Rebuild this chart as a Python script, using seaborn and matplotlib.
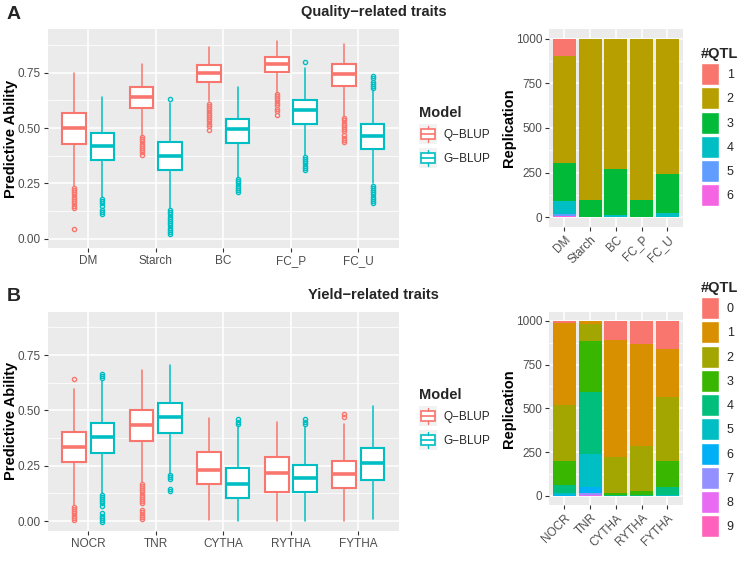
import numpy as np
import matplotlib
matplotlib.use("Agg")
import matplotlib.pyplot as plt
import seaborn as sns
from matplotlib.patches import Patch, Rectangle
from matplotlib.lines import Line2D
from matplotlib.legend_handler import HandlerBase
from matplotlib.ticker import FixedLocator

# ---------------- data ----------------
traits_A = ["DM", "Starch", "BC", "FC_P", "FC_U"]
traits_B = ["NOCR", "TNR", "CYTHA", "RYTHA", "FYTHA"]
models = ["Q\u2212BLUP", "G\u2212BLUP"]

# Panel A, Q-BLUP box statistics
qA_whislo = [0.240, 0.465, 0.620, 0.660, 0.550]
qA_q1 = [0.428, 0.589, 0.709, 0.752, 0.691]
qA_med = [0.502, 0.639, 0.750, 0.791, 0.744]
qA_q3 = [0.566, 0.684, 0.785, 0.822, 0.789]
qA_whishi = [0.747, 0.788, 0.864, 0.893, 0.878]
qA_out = [
    [0.23, 0.22, 0.21, 0.20, 0.19, 0.18, 0.17, 0.16, 0.15, 0.14, 0.045],
    [0.46, 0.45, 0.44, 0.43, 0.42, 0.41, 0.40, 0.39, 0.38],
    [0.61, 0.60, 0.59, 0.58, 0.57, 0.56, 0.55, 0.54, 0.53, 0.52, 0.51, 0.49],
    [0.655, 0.645, 0.635, 0.625, 0.615, 0.605, 0.585, 0.575, 0.56],
    [0.545, 0.535, 0.525, 0.515, 0.505, 0.495, 0.485, 0.47, 0.455, 0.445, 0.435],
]
# Panel A, G-BLUP box statistics
gA_whislo = [0.190, 0.140, 0.275, 0.380, 0.250]
gA_q1 = [0.355, 0.310, 0.431, 0.520, 0.404]
gA_med = [0.420, 0.373, 0.494, 0.581, 0.464]
gA_q3 = [0.476, 0.435, 0.542, 0.625, 0.517]
gA_whishi = [0.642, 0.614, 0.684, 0.770, 0.672]
gA_out = [
    [0.18, 0.17, 0.16, 0.15, 0.13, 0.12, 0.11],
    [0.630, 0.13, 0.12, 0.11, 0.10, 0.09, 0.08, 0.07, 0.06, 0.05, 0.04, 0.03, 0.02],
    [0.27, 0.26, 0.25, 0.24, 0.23, 0.22, 0.21],
    [0.800, 0.37, 0.36, 0.35, 0.34, 0.33, 0.32, 0.31],
    [0.735, 0.725, 0.71, 0.70, 0.69, 0.68, 0.24, 0.23, 0.22, 0.21, 0.20, 0.19, 0.18, 0.17, 0.16],
]

# Panel B, Q-BLUP box statistics
qB_whislo = [0.075, 0.175, 0.005, 0.000, 0.000]
qB_q1 = [0.265, 0.364, 0.167, 0.133, 0.148]
qB_med = [0.337, 0.434, 0.233, 0.217, 0.214]
qB_q3 = [0.402, 0.500, 0.312, 0.288, 0.273]
qB_whishi = [0.596, 0.681, 0.468, 0.447, 0.437]
qB_out = [
    [0.642, 0.065, 0.055, 0.045, 0.035, 0.025, 0.015, 0.005],
    [0.17, 0.16, 0.15, 0.14, 0.13, 0.12, 0.11, 0.10, 0.09, 0.08, 0.05, 0.04, 0.03, 0.02, 0.01],
    [],
    [],
    [0.482, 0.470],
]
# Panel B, G-BLUP box statistics
gB_whislo = [0.125, 0.215, 0.000, 0.000, 0.011]
gB_q1 = [0.310, 0.400, 0.105, 0.130, 0.188]
gB_med = [0.381, 0.470, 0.166, 0.194, 0.264]
gB_q3 = [0.444, 0.535, 0.239, 0.255, 0.331]
gB_whishi = [0.635, 0.705, 0.429, 0.426, 0.518]
gB_out = [
    [0.665, 0.655, 0.645, 0.12, 0.11, 0.10, 0.09, 0.08, 0.07, 0.035, 0.025, 0.015, 0.005, -0.005],
    [0.21, 0.20, 0.19, 0.145, 0.135],
    [0.462, 0.450, 0.440],
    [0.460, 0.450, 0.438],
    [],
]

# #QTL replication counts (per trait)
qtl_levels_A = ["1", "2", "3", "4", "5", "6"]
qtlA_1 = [95, 0, 0, 0, 0]
qtlA_2 = [600, 901, 728, 901, 756]
qtlA_3 = [214, 96, 259, 95, 218]
qtlA_4 = [70, 3, 13, 4, 26]
qtlA_5 = [14, 0, 0, 0, 0]
qtlA_6 = [7, 0, 0, 0, 0]

qtl_levels_B = ["0", "1", "2", "3", "4", "5", "6", "7", "8", "9"]
qtlB_0 = [15, 0, 109, 133, 162]
qtlB_1 = [464, 17, 671, 584, 275]
qtlB_2 = [322, 97, 203, 254, 364]
qtlB_3 = [134, 291, 12, 22, 151]
qtlB_4 = [51, 358, 5, 7, 43]
qtlB_5 = [10, 185, 0, 0, 5]
qtlB_6 = [4, 35, 0, 0, 0]
qtlB_7 = [0, 12, 0, 0, 0]
qtlB_8 = [0, 5, 0, 0, 0]
qtlB_9 = [0, 0, 0, 0, 0]

# ---------------- style ----------------
sns.set_theme(style="darkgrid", rc={
    "axes.facecolor": "#EBEBEB",
    "grid.color": "white",
    "xtick.bottom": True, "ytick.left": True,
    "xtick.major.size": 3, "ytick.major.size": 3,
    "xtick.major.width": 0.8, "ytick.major.width": 0.8,
    "xtick.color": "#333333", "ytick.color": "#333333",
    "xtick.labelcolor": "#4D4D4D", "ytick.labelcolor": "#4D4D4D",
    "xtick.major.pad": 2, "ytick.major.pad": 2,
})
plt.rcParams["font.family"] = ["Liberation Sans", "DejaVu Sans"]

QC, GC = "#F8766D", "#00BFC4"
pal6 = ["#F8766D", "#B79F00", "#00BA38", "#00BFC4", "#619CFF", "#F564E3"]
pal10 = ["#F8766D", "#D89000", "#A3A500", "#39B600", "#00BF7D",
         "#00BFC4", "#00B0F6", "#9590FF", "#E76BF3", "#FF62BC"]

fig = plt.figure(figsize=(7.47, 5.65), dpi=100)
W, H = 747, 565


def px_axes(x0, y0, x1, y1):
    return fig.add_axes([x0 / W, 1 - y1 / H, (x1 - x0) / W, (y1 - y0) / H])


def style_axes(ax):
    for s in ax.spines.values():
        s.set_visible(False)
    ax.set_axisbelow(True)
    ax.grid(which="major", color="white", lw=1.1)
    ax.grid(which="minor", axis="y", color="white", lw=0.55)
    ax.tick_params(axis="both", labelsize=8.5)
    ax.tick_params(axis="y", which="minor", length=0)


def draw_boxes(ax, traits, qstats, gstats, qout, gout):
    x = np.arange(len(traits))
    for stats, outs, color, off in [(qstats, qout, QC, -0.21), (gstats, gout, GC, 0.21)]:
        lo, q1, med, q3, hi = stats
        bs = [dict(whislo=lo[i], q1=q1[i], med=med[i], q3=q3[i], whishi=hi[i], fliers=outs[i])
              for i in range(len(traits))]
        ax.bxp(bs, positions=x + off, widths=0.35, patch_artist=True, showcaps=False,
               manage_ticks=False,
               boxprops=dict(facecolor="white", edgecolor=color, linewidth=1.5),
               medianprops=dict(color=color, linewidth=2.6, solid_capstyle="butt"),
               whiskerprops=dict(color=color, linewidth=1.1),
               flierprops=dict(marker="o", markerfacecolor="none", markeredgecolor=color,
                               markersize=3, markeredgewidth=1.0))
    ax.set_xlim(-0.6, len(traits) - 0.4)
    ax.set_ylim(-0.043, 0.946)
    ax.set_xticks(x)
    ax.set_xticklabels(traits)
    ax.yaxis.set_major_locator(FixedLocator([0, 0.25, 0.5, 0.75]))
    ax.set_yticklabels(["0.00", "0.25", "0.50", "0.75"])
    ax.yaxis.set_minor_locator(FixedLocator([0.125, 0.375, 0.625, 0.875]))
    style_axes(ax)
    ax.set_ylabel("Predictive Ability", fontsize=10.5, fontweight="bold", color="black")
    ax.yaxis.set_label_coords(-0.085, 0.5)


def draw_bars(ax, traits, series, colors):
    x = np.arange(len(traits))
    base = np.zeros(len(traits))
    for counts, c in reversed(list(zip(series, colors))):
        counts = np.asarray(counts, dtype=float)
        ax.bar(x, counts, bottom=base, width=0.9, color=c, linewidth=0)
        base = base + counts
    ax.set_xlim(-0.6, len(traits) - 0.4)
    ax.set_ylim(-52, 1052)
    ax.set_xticks(x)
    ax.set_xticklabels(traits, rotation=45, ha="right", rotation_mode="anchor")
    ax.yaxis.set_major_locator(FixedLocator([0, 250, 500, 750, 1000]))
    ax.yaxis.set_minor_locator(FixedLocator([125, 375, 625, 875]))
    style_axes(ax)
    ax.set_ylabel("Replication", fontsize=10.5, fontweight="bold", color="black")
    ax.yaxis.set_label_coords(-0.25, 0.5)


class BoxHandler(HandlerBase):
    def create_artists(self, legend, orig_handle, xdescent, ydescent, width, height, fontsize, trans):
        color = orig_handle.get_color()
        x0, y0 = -xdescent, -ydescent
        bg = Rectangle((x0, y0), width, height, facecolor="#F2F2F2", edgecolor="none", transform=trans)
        cx = x0 + width / 2
        bw = width * 0.78
        box = Rectangle((cx - bw / 2, y0 + height * 0.25), bw, height * 0.5, facecolor="white",
                        edgecolor=color, lw=1.2, transform=trans)
        wl = Line2D([cx, cx], [y0 + height * 0.08, y0 + height * 0.25], color=color, lw=1, transform=trans)
        wh = Line2D([cx, cx], [y0 + height * 0.75, y0 + height * 0.92], color=color, lw=1, transform=trans)
        md = Line2D([cx - bw / 2, cx + bw / 2], [y0 + height / 2] * 2, color=color, lw=1.2, transform=trans)
        return [bg, box, wl, wh, md]


def model_legend(top_px):
    h = [Line2D([], [], color=QC), Line2D([], [], color=GC)]
    fig.legend(h, models, handler_map={Line2D: BoxHandler()}, loc="upper left",
               bbox_to_anchor=(419 / W, 1 - top_px / H), frameon=False, borderpad=0,
               borderaxespad=0, title="Model", alignment="left", fontsize=8.5,
               title_fontproperties={"weight": "bold", "size": 10.5},
               handlelength=1.5, handleheight=2.23, labelspacing=0.34, handletextpad=0.55)


def qtl_legend(levels, colors, top_px):
    h = [Patch(facecolor=c, edgecolor="white", linewidth=1.0) for c in colors]
    fig.legend(h, levels, loc="upper left", bbox_to_anchor=(701 / W, 1 - top_px / H),
               frameon=False, borderpad=0, borderaxespad=0, title="#QTL", alignment="left",
               fontsize=9, title_fontproperties={"weight": "bold", "size": 10.5},
               handlelength=1.45, handleheight=2.33, labelspacing=0.18, handletextpad=0.6)


# ---------------- panels ----------------
axA = px_axes(47.7, 29.3, 399, 248.3)
draw_boxes(axA, traits_A, (qA_whislo, qA_q1, qA_med, qA_q3, qA_whishi),
           (gA_whislo, gA_q1, gA_med, gA_q3, gA_whishi), qA_out, gA_out)
axAb = px_axes(549, 29.3, 682.7, 226.7)
draw_bars(axAb, traits_A, [qtlA_1, qtlA_2, qtlA_3, qtlA_4, qtlA_5, qtlA_6], pal6)

axB = px_axes(47.7, 311.7, 399, 530.7)
draw_boxes(axB, traits_B, (qB_whislo, qB_q1, qB_med, qB_q3, qB_whishi),
           (gB_whislo, gB_q1, gB_med, gB_q3, gB_whishi), qB_out, gB_out)
axBb = px_axes(549, 311.7, 682.7, 505)
draw_bars(axBb, traits_B, [qtlB_0, qtlB_1, qtlB_2, qtlB_3, qtlB_4, qtlB_5, qtlB_6, qtlB_7,
                            qtlB_8, qtlB_9], pal10)

model_legend(106)
model_legend(388)
qtl_legend(qtl_levels_A, pal6, 47)
qtl_legend(qtl_levels_B, pal10, 281)

fig.text(0.009, 1 - 14.5 / H, "A", fontsize=14, fontweight="bold", va="center", ha="left")
fig.text(0.009, 1 - 296.5 / H, "B", fontsize=14, fontweight="bold", va="center", ha="left")
fig.text(373.5 / W, 1 - 12 / H, "Quality\u2212related traits", fontsize=10.5, fontweight="bold",
         ha="center", va="center")
fig.text(373.5 / W, 1 - 295 / H, "Yield\u2212related traits", fontsize=10.5, fontweight="bold",
         ha="center", va="center")

fig.savefig("out.png", dpi=100, facecolor="white")
